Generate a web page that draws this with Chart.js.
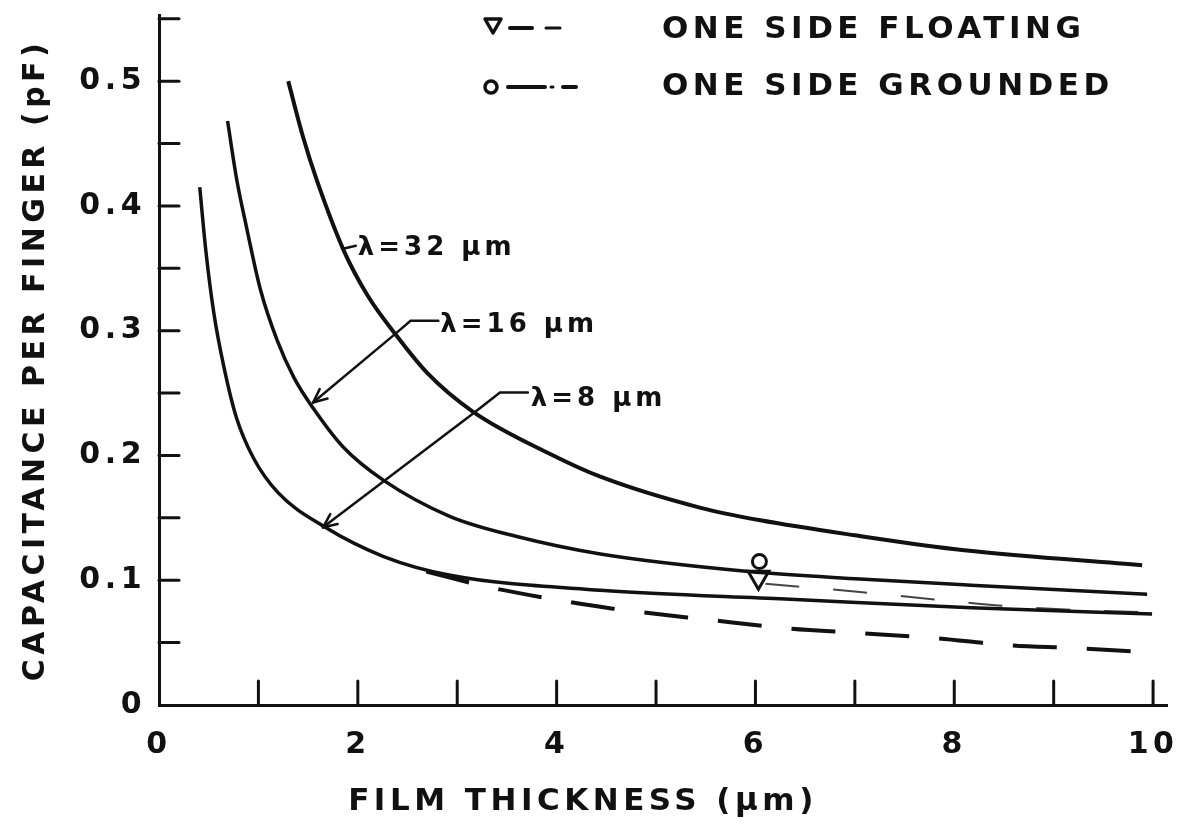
<!DOCTYPE html>
<html lang="en">
<head>
<meta charset="UTF-8">
<title>Capacitance per finger vs film thickness</title>
<script src="https://cdn.jsdelivr.net/npm/chart.js"></script>
<style>
    html, body { margin: 0; padding: 0; background: #fff; }
    #wrap { width: 1182px; height: 827px; }
</style>
</head>
<body>
<div id="wrap"><canvas id="capChart" width="1182" height="827"></canvas></div>
<script>
// film thickness (um) -> capacitance per finger (pF)
const lam32X = [1.30, 1.45, 1.59, 1.86, 2.10, 2.38, 2.70, 3.16, 3.94, 4.44, 5.45, 6.05, 7.00, 8.10, 9.89];
const lam32Y = [0.500, 0.455, 0.420, 0.364, 0.328, 0.297, 0.266, 0.235, 0.201, 0.183, 0.158, 0.148, 0.136, 0.124, 0.112];

const lam16X = [0.69, 0.78, 0.88, 1.02, 1.19, 1.36, 1.55, 1.85, 2.26, 2.93, 3.60, 4.44, 5.93, 7.05, 8.17, 9.94];
const lam16Y = [0.468, 0.422, 0.383, 0.333, 0.292, 0.262, 0.238, 0.207, 0.180, 0.151, 0.135, 0.121, 0.107, 0.101, 0.096, 0.0888];

const lam8X = [0.41, 0.47, 0.55, 0.65, 0.78, 0.95, 1.20, 1.66, 2.26, 2.93, 4.44, 6.30, 8.17, 9.99];
const lam8Y = [0.415, 0.365, 0.315, 0.272, 0.230, 0.198, 0.170, 0.143, 0.119, 0.104, 0.092, 0.085, 0.078, 0.073];

// grounded branches
const lam8GndX = [2.69, 3.31, 4.02, 4.55, 5.56, 6.30, 7.05, 7.80, 8.54, 9.21, 9.93];
const lam8GndY = [0.107, 0.0946, 0.084, 0.0774, 0.068, 0.0616, 0.0576, 0.0536, 0.048, 0.0456, 0.0424];

const lam16GndX = [6.10, 7.05, 7.80, 8.54, 9.29, 9.99];
const lam16GndY = [0.0972, 0.0906, 0.0846, 0.0792, 0.076, 0.0742];

// the two symbols sitting on the curves near 6 um
const floatMarkX = [6.03];
const floatMarkY = [0.1024];
const gndMarkX = [6.04];
const gndMarkY = [0.115];

const xTickMarks = [1, 2, 3, 4, 5, 6, 7, 8, 9, 10];
const yTickMarks = [0.05, 0.10, 0.15, 0.20, 0.25, 0.30, 0.35, 0.40, 0.45, 0.50, 0.55];

// curve labels and their leader lines, in data units
const curveLabels = ['λ=32 μm', 'λ=16 μm', 'λ=8 μm'];
const labelAt = [[2.00, 0.3664], [2.83, 0.304], [3.74, 0.2448]];
const leader32 = [[1.85, 0.3656], [1.98, 0.368]];
const leader16 = [[2.81, 0.308], [2.53, 0.308], [2.38, 0.2976], [1.55, 0.2424]];
const leader8 = [[3.71, 0.2504], [3.43, 0.2504], [3.16, 0.2336], [1.65, 0.1424]];

const INK = '#111';
const FONT = '"DejaVu Sans", "Liberation Sans", sans-serif';

function pts(xs, ys) {
    return xs.map((x, i) => ({ x: x, y: ys[i] }));
}

function curve(xs, ys, extra) {
    return Object.assign({
        data: pts(xs, ys),
        borderColor: INK,
        borderWidth: 4,
        pointRadius: 0,
        fill: false,
        cubicInterpolationMode: 'monotone'
    }, extra || {});
}

function drawPath(ctx, xs, ys) {
    ctx.beginPath();
    xs.forEach((x, i) => {
        if (i === 0) ctx.moveTo(x, ys[i]); else ctx.lineTo(x, ys[i]);
    });
    ctx.stroke();
}

const handDrawn = {
    id: 'handDrawn',
    beforeDraw(chart) {
        // wide hand lettering
        chart.ctx.letterSpacing = '4.5px';
    },
    afterDraw(chart) {
        const ctx = chart.ctx;
        const xs = chart.scales.x, ys = chart.scales.y;
        const area = chart.chartArea;
        ctx.save();
        ctx.strokeStyle = INK;
        ctx.fillStyle = INK;
        ctx.lineCap = 'round';

        // inward tick marks
        ctx.lineWidth = 3;
        yTickMarks.forEach(v => {
            const p = ys.getPixelForValue(v);
            drawPath(ctx, [area.left, area.left + 20], [p, p]);
        });
        xTickMarks.forEach(v => {
            const p = xs.getPixelForValue(v);
            drawPath(ctx, [p, p], [area.bottom, area.bottom - 24]);
        });

        // leader lines with open arrow heads
        ctx.lineWidth = 2.5;
        [leader32, leader16, leader8].forEach((ld, k) => {
            const px = ld.map(p => xs.getPixelForValue(p[0]));
            const py = ld.map(p => ys.getPixelForValue(p[1]));
            drawPath(ctx, px, py);
            if (k > 0) {
                const n = px.length - 1;
                const ang = Math.atan2(py[n] - py[n - 1], px[n] - px[n - 1]);
                [0.42, -0.42].forEach(d => {
                    drawPath(ctx, [px[n], px[n] - 15 * Math.cos(ang + d)],
                                  [py[n], py[n] - 15 * Math.sin(ang + d)]);
                });
            }
        });

        // curve labels
        ctx.letterSpacing = '4px';
        ctx.font = 'bold 26px ' + FONT;
        ctx.textAlign = 'left';
        ctx.textBaseline = 'middle';
        curveLabels.forEach((t, i) => {
            ctx.fillText(t, xs.getPixelForValue(labelAt[i][0]), ys.getPixelForValue(labelAt[i][1]));
        });

        // x axis title (sits left of centre in the original)
        ctx.letterSpacing = '4.5px';
        ctx.font = 'bold 31px ' + FONT;
        ctx.textAlign = 'center';
        ctx.fillText('FILM THICKNESS (μm)', 583, 802);

        // legend
        ctx.textAlign = 'left';
        ctx.fillText('ONE SIDE FLOATING', 662, 30);
        ctx.fillText('ONE SIDE GROUNDED', 662, 87);

        ctx.lineWidth = 3.5;
        ctx.lineJoin = 'round';
        ctx.beginPath();
        ctx.moveTo(485, 19); ctx.lineTo(501, 19); ctx.lineTo(493, 33); ctx.closePath();
        ctx.stroke();
        ctx.lineWidth = 4;
        drawPath(ctx, [510, 532], [28, 28]);
        ctx.lineWidth = 3;
        drawPath(ctx, [546, 560], [28, 28]);

        ctx.lineWidth = 3.5;
        ctx.beginPath();
        ctx.arc(491, 87, 6, 0, Math.PI * 2);
        ctx.stroke();
        ctx.lineWidth = 4;
        drawPath(ctx, [508, 545], [87, 87]);
        ctx.lineWidth = 3;
        drawPath(ctx, [551, 553], [87, 87]);
        ctx.lineWidth = 4;
        drawPath(ctx, [563, 576], [87, 87]);

        ctx.restore();
    }
};

new Chart(document.getElementById('capChart'), {
    type: 'line',
    data: {
        datasets: [
            curve(lam32X, lam32Y),
            curve(lam16X, lam16Y, { borderWidth: 3.5 }),
            curve(lam8X, lam8Y, { borderWidth: 3.5 }),
            curve(lam8GndX, lam8GndY, { borderDash: [44, 30], borderWidth: 4 }),
            curve(lam16GndX, lam16GndY, { borderDash: [34, 34], borderWidth: 2, borderColor: '#444' }),
            {
                data: pts(floatMarkX, floatMarkY),
                showLine: false,
                pointStyle: 'triangle',
                rotation: 180,
                pointRadius: 12,
                pointBorderWidth: 3,
                pointBorderColor: INK,
                pointBackgroundColor: 'rgba(255,255,255,0)'
            },
            {
                data: pts(gndMarkX, gndMarkY),
                showLine: false,
                pointStyle: 'circle',
                pointRadius: 7,
                pointBorderWidth: 3,
                pointBorderColor: INK,
                pointBackgroundColor: 'rgba(255,255,255,0)'
            }
        ]
    },
    options: {
        responsive: false,
        animation: false,
        devicePixelRatio: 1,
        layout: { padding: { top: 13, right: 14, left: 0, bottom: 0 } },
        plugins: {
            legend: { display: false },
            tooltip: { enabled: false }
        },
        scales: {
            x: {
                type: 'linear',
                min: 0,
                max: 10.14,
                grid: { display: false },
                border: { display: true, color: INK, width: 3 },
                ticks: {
                    stepSize: 1,
                    includeBounds: false,
                    autoSkip: false,
                    maxRotation: 0,
                    padding: 14,
                    color: INK,
                    font: { family: FONT, size: 30, weight: 'bold' },
                    callback: v => (Math.round(v) % 2 === 0 ? String(Math.round(v)) : '')
                },
                afterFit(scale) {
                    scale.height = 122;
                    scale.paddingLeft = 0;
                    scale.paddingRight = 0;
                }
            },
            y: {
                min: 0,
                max: 0.553,
                grid: { display: false },
                border: { display: true, color: INK, width: 3 },
                ticks: {
                    stepSize: 0.05,
                    includeBounds: false,
                    autoSkip: false,
                    padding: 5,
                    color: INK,
                    font: { family: FONT, size: 30, weight: 'bold' },
                    callback: v => {
                        const t = Math.round(v * 100);
                        if (t % 10 !== 0 || t > 50) return '';
                        return t === 0 ? '0' : (t / 100).toFixed(1);
                    }
                },
                title: {
                    display: true,
                    text: 'CAPACITANCE PER FINGER (pF)',
                    color: INK,
                    font: { family: FONT, size: 30, weight: 'bold' },
                    padding: { top: 18, bottom: 0 }
                },
                afterFit(scale) {
                    scale.width = 159;
                    scale.paddingTop = 0;
                    scale.paddingBottom = 0;
                }
            }
        }
    },
    plugins: [handDrawn]
});
</script>
</body>
</html>
